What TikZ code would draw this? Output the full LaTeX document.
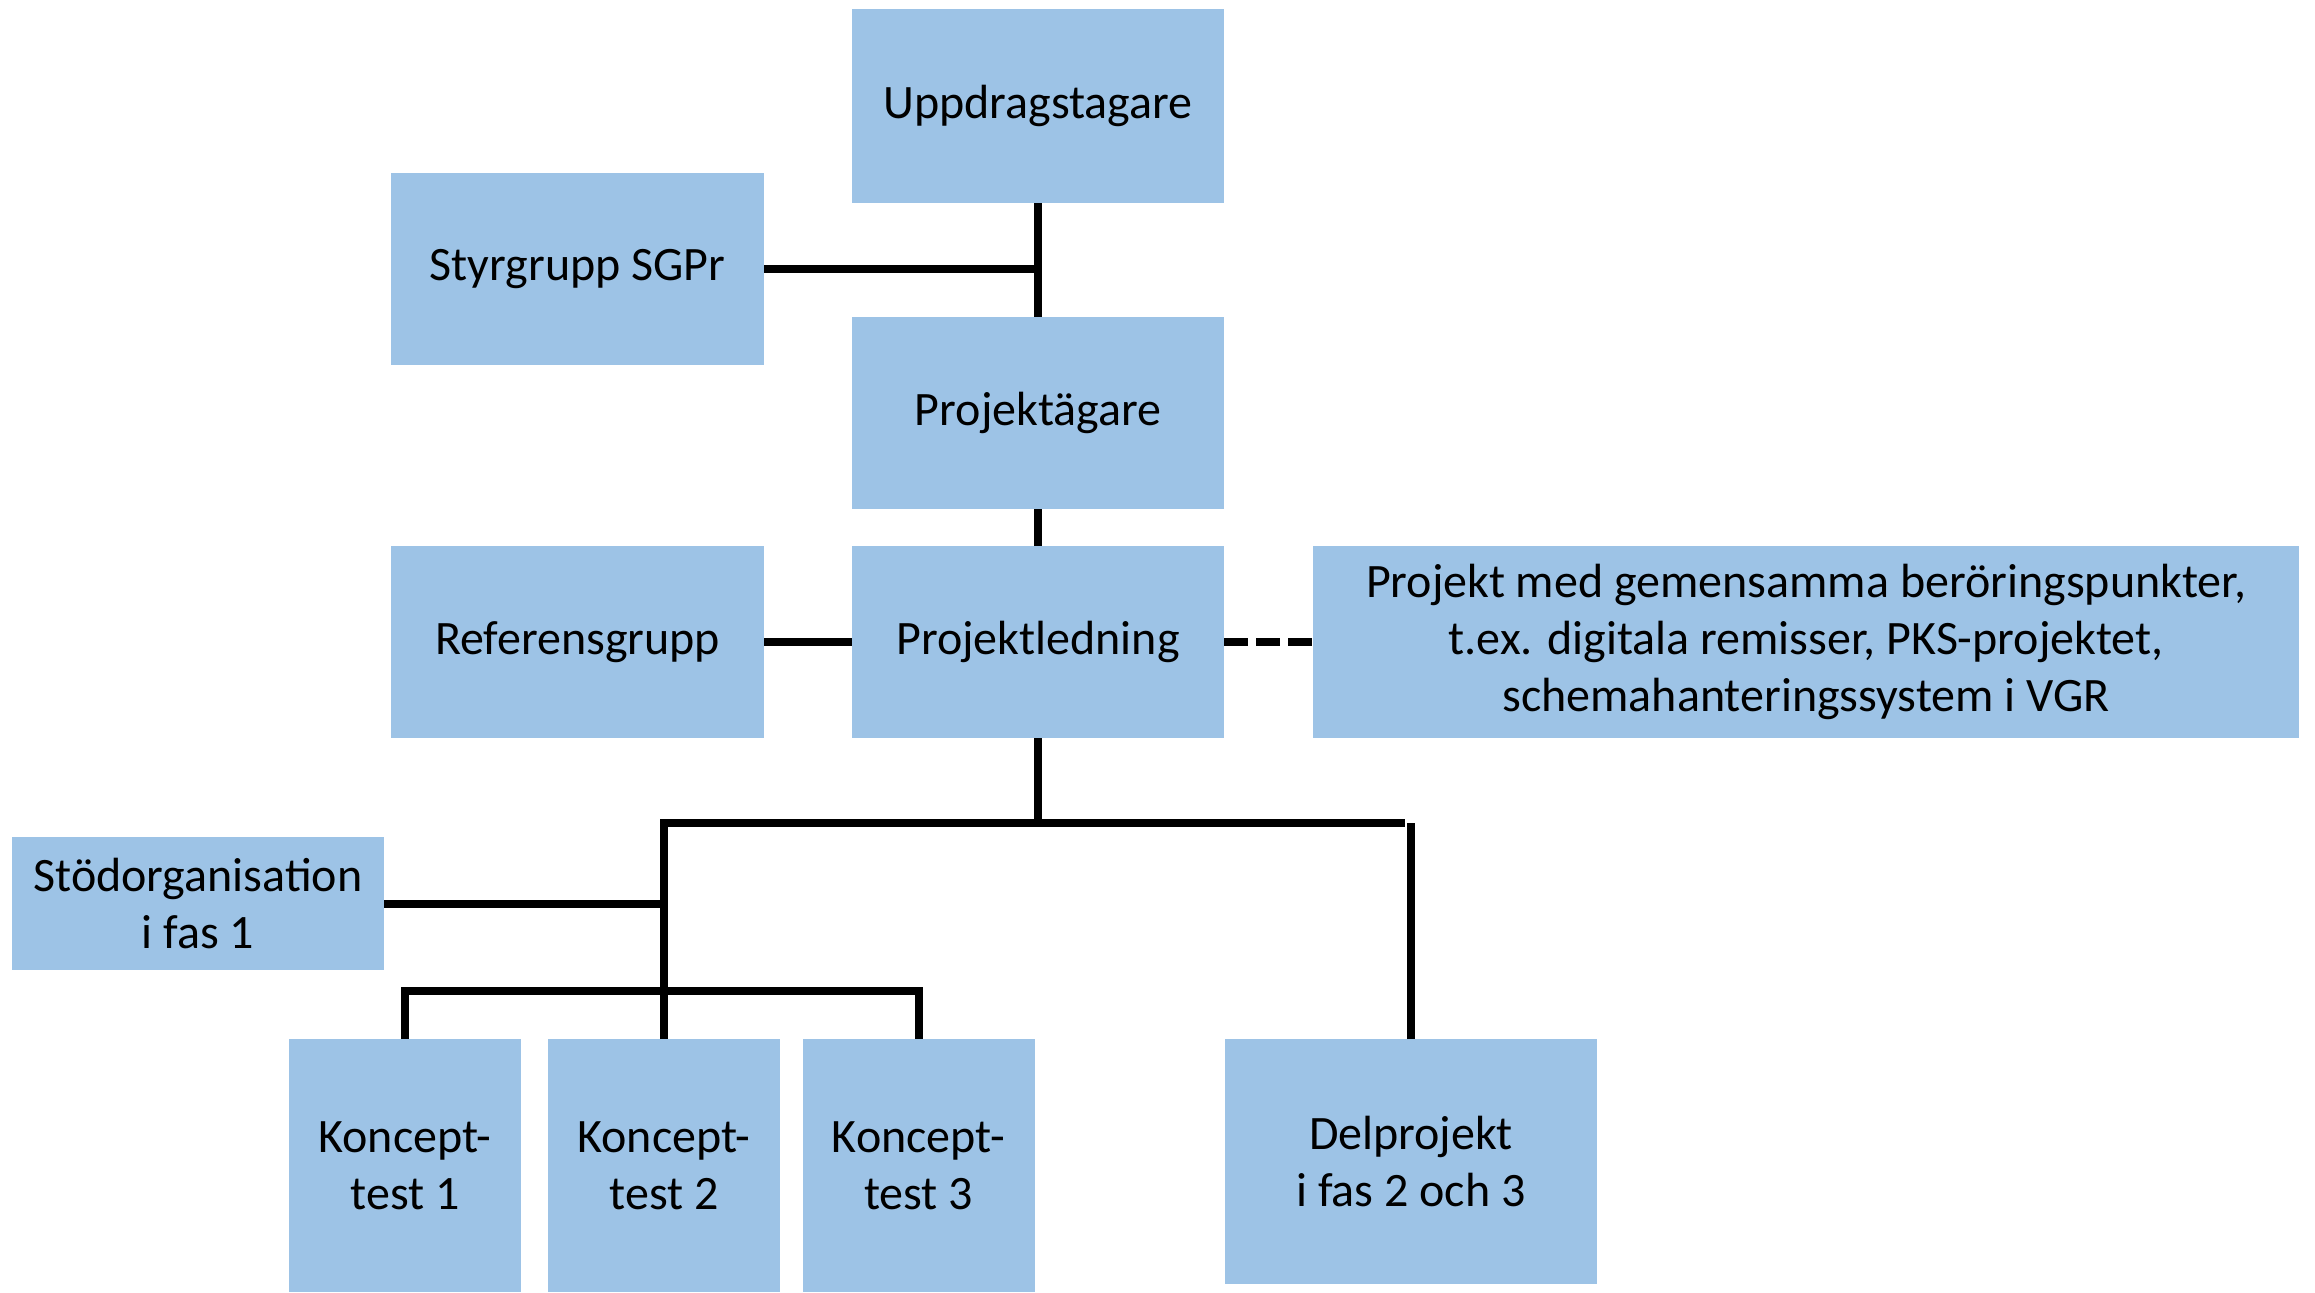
\documentclass[tikz,border=0pt]{standalone}
\usepackage{fontspec}
\setmainfont{Carlito}
\definecolor{boxblue}{RGB}{157,195,230}
\tikzset{every picture/.style={line width=2.4pt}}
\tikzset{orgbox/.style={fill=boxblue, draw=none, inner sep=0pt, outer sep=0pt, align=center, text=black, font=\fontsize{14.4}{17.1}\selectfont}}

\begin{document}
\begin{tikzpicture}[x=0.3pt,y=0.3pt,yscale=-1,xscale=1]
        \useasboundingbox (0,0) rectangle (2315,1292);

        %Shape: Rectangle [id:upp]
        \node [orgbox, minimum width=111.6pt, minimum height=58.2pt] (upp) at (1038,106) {Uppdragstagare};
        %Shape: Rectangle [id:styr]
        \node [orgbox, minimum width=111.9pt, minimum height=57.6pt] (styr) at (577.5,269) {Styrgrupp SGPr};
        %Shape: Rectangle [id:agare]
        \node [orgbox, minimum width=111.6pt, minimum height=57.6pt] (agare) at (1038,413) {Projektägare};
        %Shape: Rectangle [id:ref]
        \node [orgbox, minimum width=111.9pt, minimum height=57.6pt] (ref) at (577.5,642) {Referensgrupp};
        %Shape: Rectangle [id:led]
        \node [orgbox, minimum width=111.6pt, minimum height=57.6pt] (led) at (1038,642) {Projektledning};
        %Shape: Rectangle [id:proj]
        \node [orgbox, minimum width=295.8pt, minimum height=57.6pt] (proj) at (1806,642) {Projekt med gemensamma beröringspunkter,\\t.ex. digitala remisser, PKS-projektet,\\schemahanteringssystem i VGR};
        %Shape: Rectangle [id:stod]
        \node [orgbox, minimum width=111.6pt, minimum height=39.9pt] (stod) at (198,903.5) {Stödorganisation\\i fas 1};
        %Shape: Rectangle [id:k1]
        \node [orgbox, minimum width=69.6pt, minimum height=75.9pt] (k1) at (405,1165.5) {Koncept-\\test 1};
        %Shape: Rectangle [id:k2]
        \node [orgbox, minimum width=69.6pt, minimum height=75.9pt] (k2) at (664,1165.5) {Koncept-\\test 2};
        %Shape: Rectangle [id:k3]
        \node [orgbox, minimum width=69.6pt, minimum height=75.9pt] (k3) at (918.5,1165.5) {Koncept-\\test 3};
        %Shape: Rectangle [id:del]
        \node [orgbox, minimum width=111.6pt, minimum height=73.5pt] (del) at (1411,1161.5) {Delprojekt\\i fas 2 och 3};

        %Straight Lines
        \coordinate (fork) at (1038,823);
        \coordinate (forkend) at (1405,823);
        \coordinate (bar) at (664,991);
        \draw (upp.south) -- (agare.north);
        \draw (styr.east) -- (styr.east -| upp.south);
        \draw (agare.south) -- (led.north);
        \draw (ref.east) -- (led.west);
        \draw [dash pattern=on 7.2pt off 2.4pt] (led.east) -- (proj.west);
        \draw (led.south) -- (fork);
        \draw (k2.north) -- (k2.north |- fork) -- (forkend);
        \draw (del.north) -- (del.north |- fork);
        \draw (stod.east) -- (stod.east -| k2.north);
        \draw (k1.north) -- (k1.north |- bar) -- (k3.north |- bar) -- (k3.north);
    \end{tikzpicture}
\end{document}
